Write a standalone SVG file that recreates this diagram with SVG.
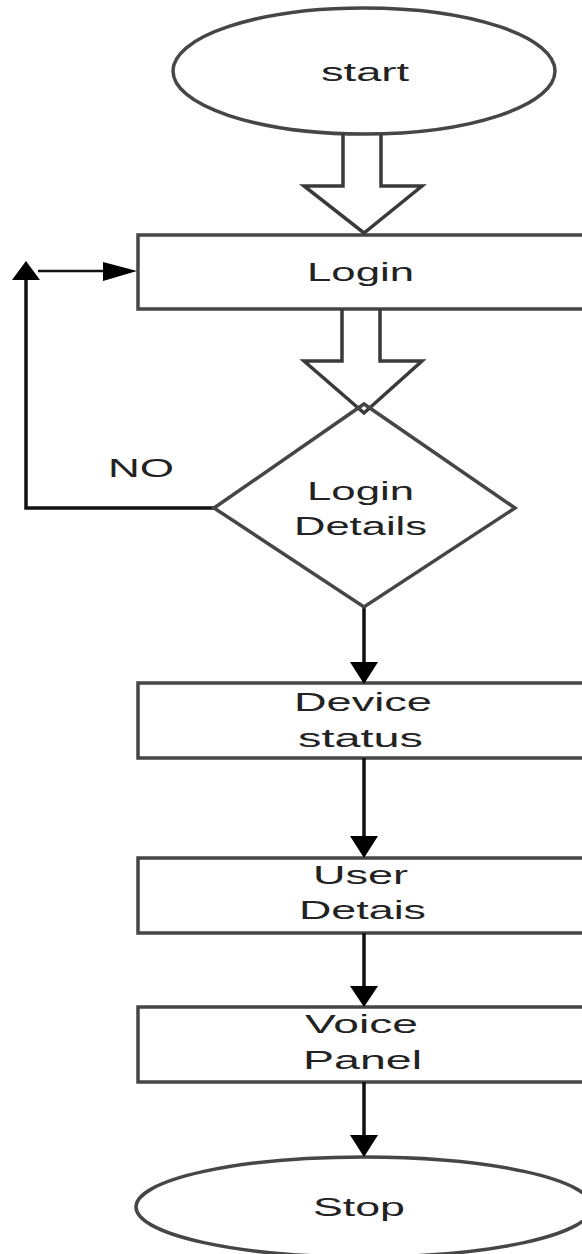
<svg xmlns="http://www.w3.org/2000/svg" width="582" height="1254" viewBox="0 0 582 1254">
  <style>
    .shape { fill: #ffffff; stroke: #464646; stroke-width: 3.5; }
    .block { fill: none; stroke: #3a3a3a; stroke-width: 3.5; stroke-linejoin: miter; }
    .wire { fill: none; stroke: #111111; stroke-width: 3.5; }
    .thin { fill: none; stroke: #111111; stroke-width: 2.5; }
    .head { fill: #000000; stroke: none; }
    .label { font-family: "Liberation Sans", Arial, sans-serif; font-size: 26px; fill: #222222; }
  </style>
  <rect width="582" height="1254" fill="#ffffff"/>

  <!-- terminal: start -->
  <g id="start">
    <ellipse class="shape" cx="364" cy="71" rx="191" ry="63"/>
    <text class="label" x="321" y="81" textLength="88" lengthAdjust="spacingAndGlyphs">start</text>
  </g>

  <!-- process boxes run past the right edge of the page -->
  <g id="login">
    <rect class="shape" x="138" y="235" width="470" height="74"/>
    <text class="label" x="307" y="281" textLength="107" lengthAdjust="spacingAndGlyphs">Login</text>
  </g>

  <g id="device-status">
    <rect class="shape" x="138" y="683" width="470" height="75"/>
    <text class="label" x="294" y="711" textLength="138" lengthAdjust="spacingAndGlyphs">Device</text>
    <text class="label" x="298" y="747" textLength="125" lengthAdjust="spacingAndGlyphs">status</text>
  </g>

  <g id="user-details">
    <rect class="shape" x="138" y="858" width="470" height="75"/>
    <text class="label" x="313" y="884" textLength="95" lengthAdjust="spacingAndGlyphs">User</text>
    <text class="label" x="299" y="919" textLength="127" lengthAdjust="spacingAndGlyphs">Detais</text>
  </g>

  <g id="voice-panel">
    <rect class="shape" x="138" y="1007" width="470" height="75"/>
    <text class="label" x="305" y="1033" textLength="113" lengthAdjust="spacingAndGlyphs">Voice</text>
    <text class="label" x="303" y="1069" textLength="119" lengthAdjust="spacingAndGlyphs">Panel</text>
  </g>

  <!-- terminal: stop -->
  <g id="stop">
    <ellipse class="shape" cx="364" cy="1207" rx="228" ry="50"/>
    <text class="label" x="313" y="1216" textLength="92" lengthAdjust="spacingAndGlyphs">Stop</text>
  </g>

  <!-- connectors -->
  <g id="connectors">
    <!-- hollow block arrows -->
    <path class="block" d="M343,134 V186 H304 L364,233 L422,186 H381 V134"/>
    <path class="block" d="M342,309 V361 H304 L364,413 L422,361 H380 V309"/>

    <!-- NO branch back to Login -->
    <polyline class="wire" points="214,508 26,508 26,276"/>
    <polygon class="head" points="26,261 12,280 40,280"/>
    <line class="thin" x1="38" y1="271" x2="108" y2="271"/>
    <polygon class="head" points="103,262 137,271 103,281"/>

    <!-- straight flow -->
    <line class="wire" x1="364" y1="607" x2="364" y2="666"/>
    <polygon class="head" points="350,662 378,662 364,684"/>
    <line class="wire" x1="364" y1="758" x2="364" y2="840"/>
    <polygon class="head" points="350,836 378,836 364,858"/>
    <line class="wire" x1="364" y1="933" x2="364" y2="990"/>
    <polygon class="head" points="350,986 378,986 364,1007"/>
    <line class="wire" x1="364" y1="1082" x2="364" y2="1139"/>
    <polygon class="head" points="350,1135 378,1135 364,1157"/>
  </g>

  <!-- decision: drawn after the block arrow so the outlines cross -->
  <g id="login-details">
    <path class="shape" fill="none" style="fill:none" d="M364,404 L515,508 L364,607 L214,508 Z"/>
    <text class="label" x="307" y="500" textLength="107" lengthAdjust="spacingAndGlyphs">Login</text>
    <text class="label" x="294" y="535" textLength="133" lengthAdjust="spacingAndGlyphs">Details</text>
  </g>

  <g id="no-label">
    <text class="label" x="108" y="477" textLength="66" lengthAdjust="spacingAndGlyphs">NO</text>
  </g>
</svg>
